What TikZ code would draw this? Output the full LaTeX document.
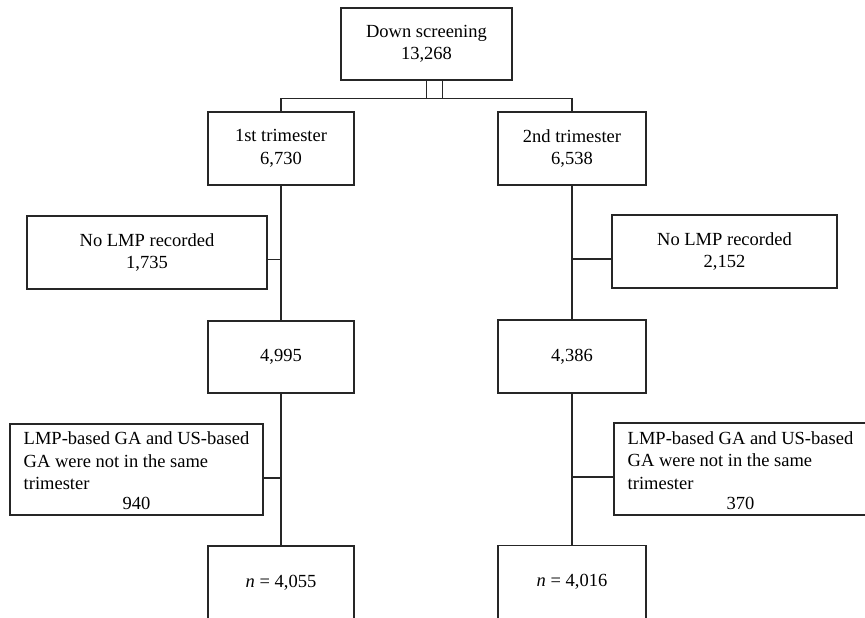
\documentclass[tikz,border=0pt]{standalone}
\usepackage{fontspec}
\setmainfont{Liberation Serif}
\usepackage{tikz}

\begin{document}
\begin{tikzpicture}[
    x=1pt, y=-1pt,
    box/.style={draw=black!85, line width=1.1pt, align=center, inner sep=0pt,
        minimum width=146pt, minimum height=73pt, font=\fontsize{18.5}{22.5}\selectfont},
    edge/.style={draw=black!85, line width=1.1pt}
]
\useasboundingbox (0,0) rectangle (865,618);
\clip (0,0) rectangle (865,618);

% Define boxes
\node[box, minimum width=171pt, minimum height=72pt] (top) at (426.5, 44) {Down screening\\13,268};
\node[box] (tri1) at (281, 148.5) {1st trimester\\6,730};
\node[box, minimum width=148pt] (tri2) at (572, 148.5) {2nd trimester\\6,538};
\node[box, minimum width=240pt] (nolmp1) at (147, 252.5) {No LMP recorded\\1,735};
\node[box, minimum width=225pt] (nolmp2) at (724.5, 251.5) {No LMP recorded\\2,152};
\node[box, minimum height=72pt] (kept1) at (281, 357) {4,995};
\node[box, minimum width=148pt] (kept2) at (572, 356.5) {4,386};
\node[box, minimum width=253pt, minimum height=91pt] (mism1) at (136.5, 469.5)
    {\begin{tabular}{@{}l@{}}LMP-based GA and US-based\\GA were not in the same\\trimester\end{tabular}\\940};
\node[box, minimum width=253pt, minimum height=92pt] (mism2) at (740.5, 469)
    {\begin{tabular}{@{}l@{}}LMP-based GA and US-based\\GA were not in the same\\trimester\end{tabular}\\370};
\node[box] (final1) at (281, 582.5) {\textit{n} = 4,055};
\node[box, minimum width=148pt] (final2) at (572, 582) {\textit{n} = 4,016};

% Define connectors
\path[edge] ([xshift=16pt]top.south) -- ++(0,18) -| (tri1.north);
\path[edge] (top.south) -- ++(0,18) -| (tri2.north);
\path[edge] (tri1.south) -- (kept1.north);
\path[edge] (tri2.south) -- (kept2.north);
\path[edge] ([yshift=-7pt]nolmp1.east) -- ([yshift=-7pt]nolmp1.east -| tri1.south);
\path[edge] ([yshift=-7.5pt]nolmp2.west) -- ([yshift=-7.5pt]nolmp2.west -| tri2.south);
\path[edge] (kept1.south) -- (final1.north);
\path[edge] (kept2.south) -- (final2.north);
\path[edge] ([yshift=-8.5pt]mism1.east) -- ([yshift=-8.5pt]mism1.east -| kept1.south);
\path[edge] ([yshift=-8pt]mism2.west) -- ([yshift=-8pt]mism2.west -| kept2.south);

\end{tikzpicture}
\end{document}
